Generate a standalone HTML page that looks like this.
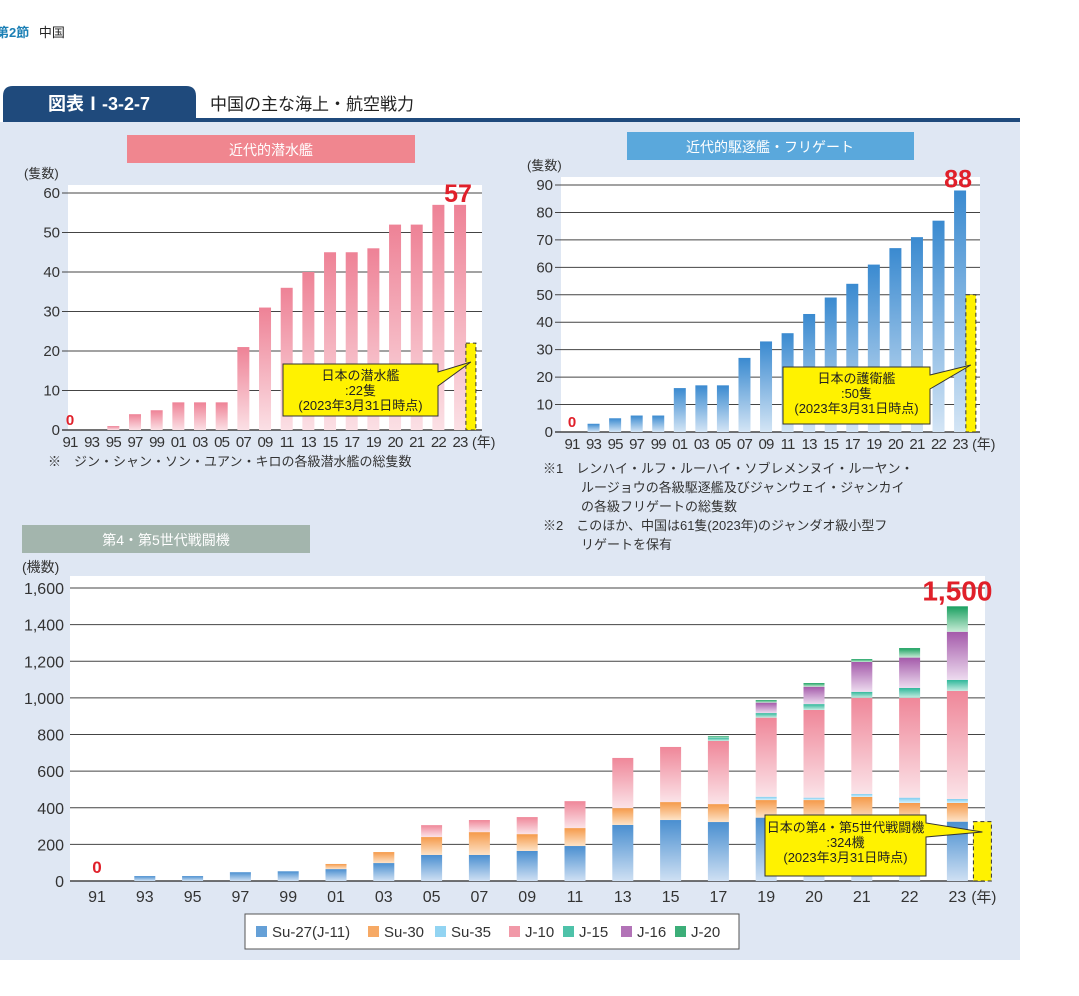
<!DOCTYPE html>
<html><head><meta charset="utf-8"><style>
body{margin:0;background:#fff;width:1079px;height:991px;overflow:hidden;font-family:"Liberation Sans","Noto Sans CJK JP",sans-serif;}
svg text{font-family:"Liberation Sans","Noto Sans CJK JP",sans-serif;}
</style></head><body>
<svg id="s" width="1079" height="991" xmlns="http://www.w3.org/2000/svg">
<defs>
<linearGradient id="gPink" x1="0" y1="0" x2="0" y2="1"><stop offset="0" stop-color="#ee8296"/><stop offset="1" stop-color="#fbe0e5"/></linearGradient>
<linearGradient id="gBlue" x1="0" y1="0" x2="0" y2="1"><stop offset="0" stop-color="#3a8ad0"/><stop offset="1" stop-color="#d4e5f5"/></linearGradient>
<linearGradient id="gSu27" x1="0" y1="0" x2="0" y2="1"><stop offset="0" stop-color="#4a8fd0"/><stop offset="1" stop-color="#cfe0f3"/></linearGradient>
<linearGradient id="gSu30" x1="0" y1="0" x2="0" y2="1"><stop offset="0" stop-color="#f59a4a"/><stop offset="1" stop-color="#fde3c8"/></linearGradient>
<linearGradient id="gSu35" x1="0" y1="0" x2="0" y2="1"><stop offset="0" stop-color="#7fcdf0"/><stop offset="1" stop-color="#d6f0fb"/></linearGradient>
<linearGradient id="gJ10" x1="0" y1="0" x2="0" y2="1"><stop offset="0" stop-color="#ef8799"/><stop offset="1" stop-color="#fbe3e8"/></linearGradient>
<linearGradient id="gJ15" x1="0" y1="0" x2="0" y2="1"><stop offset="0" stop-color="#2fb79a"/><stop offset="1" stop-color="#c6ece2"/></linearGradient>
<linearGradient id="gJ16" x1="0" y1="0" x2="0" y2="1"><stop offset="0" stop-color="#a45aaa"/><stop offset="1" stop-color="#eddbef"/></linearGradient>
<linearGradient id="gJ20" x1="0" y1="0" x2="0" y2="1"><stop offset="0" stop-color="#1aa060"/><stop offset="1" stop-color="#c8ecd6"/></linearGradient>
</defs>
<text x="-4" y="37" font-size="13" font-weight="bold" fill="#1a7fb5">第2節 <tspan fill="#222" font-weight="normal" dx="6">中国</tspan></text>
<rect x="0" y="122" width="1020" height="838" fill="#dfe7f3"/>
<path d="M3,121 V96 Q3,86 13,86 H186 Q196,86 196,96 V121 Z" fill="#1f4a7c"/>
<text x="99" y="110" font-size="18" font-weight="bold" fill="#fff" text-anchor="middle">図表Ⅰ-3-2-7</text>
<rect x="3" y="118" width="1017" height="4" fill="#1f4a7c"/>
<text x="210" y="110" font-size="17" fill="#222">中国の主な海上・航空戦力</text>

<rect x="127" y="135" width="288" height="28" fill="#f0868f"/>
<text x="271" y="155" font-size="14" fill="#fff" text-anchor="middle">近代的潜水艦</text>
<rect x="627" y="132" width="287" height="28" fill="#5aa8dc"/>
<text x="770" y="152" font-size="14" fill="#fff" text-anchor="middle">近代的駆逐艦・フリゲート</text>
<rect x="22" y="525" width="288" height="28" fill="#a3b5ad"/>
<text x="166" y="545" font-size="14" fill="#fff" text-anchor="middle">第4・第5世代戦闘機</text>

<text x="48" y="466" font-size="13" fill="#333">※　ジン・シャン・ソン・ユアン・キロの各級潜水艦の総隻数</text>
<g font-size="13" fill="#333">
<text x="543" y="473">※1　レンハイ・ルフ・ルーハイ・ソブレメンヌイ・ルーヤン・</text>
<text x="581" y="492">ルージョウの各級駆逐艦及びジャンウェイ・ジャンカイ</text>
<text x="581" y="511">の各級フリゲートの総隻数</text>
<text x="543" y="530">※2　このほか、中国は61隻(2023年)のジャンダオ級小型フ</text>
<text x="581" y="549">リゲートを保有</text>
</g>
<g id="c1"></g><g id="c2"></g><g id="c3"></g>
<g id="legend"></g>
</svg>
<script>
const NS="http://www.w3.org/2000/svg";
const years=["91","93","95","97","99","01","03","05","07","09","11","13","15","17","19","20","21","22","23"];
const subValues=[0,0,1,4,5,7,7,7,21,31,36,40,45,45,46,52,52,57,57];
const subTicks=[0,10,20,30,40,50,60];
const japanSub=22;
const dstValues=[0,3,5,6,6,16,17,17,27,33,36,43,49,54,61,67,71,77,88];
const dstTicks=[0,10,20,30,40,50,60,70,80,90];
const japanDst=50;
const fSeries=["Su-27(J-11)","Su-30","Su-35","J-10","J-15","J-16","J-20"];
const su27=[0,27,27,48,53,65,98,142,142,164,191,306,333,322,346,330,330,330,324];
const su30=[0,0,0,0,0,28,60,98,125,92,98,92,98,98,96,112,129,96,102];
const su35=[0,0,0,0,0,0,0,0,0,0,0,0,0,0,18,13,16,29,22];
const j10=[0,0,0,0,0,0,0,65,66,93,147,274,301,345,432,479,525,545,590];
const j15=[0,0,0,0,0,0,0,0,0,0,0,0,0,18,25,32,33,54,60];
const j16=[0,0,0,0,0,0,0,0,0,0,0,0,0,0,57,95,163,166,263];
const j20=[0,0,0,0,0,0,0,0,0,0,0,0,0,8,14,20,16,52,139];
const fTicks=[0,200,400,600,800,1000,1200,1400,1600];
const japanF=324;
const fColors=["gSu27","gSu30","gSu35","gJ10","gJ15","gJ16","gJ20"];
const legendSw=["#4a8fd0","#f59a4a","#7fcdf0","#ef8799","#2fb79a","#a45aaa","#1aa060"];

function el(tag,attrs,parent,txt){const e=document.createElementNS(NS,tag);for(const k in attrs)e.setAttribute(k,attrs[k]);if(txt!==undefined)e.textContent=txt;parent.appendChild(e);return e;}
function fmt(v){return v.toLocaleString("en-US");}

function drawSimple(g,cfg){
  const y=v=>cfg.y0-(v/cfg.max)*(cfg.y0-cfg.yTop);
  const x=i=>cfg.x0+i*cfg.step;
  const pa=el("rect",{x:cfg.px0,y:cfg.yTop-8,width:cfg.px1-cfg.px0,height:cfg.y0-cfg.yTop+8,fill:"#fff"},g);
  
  
  cfg.ticks.forEach(t=>{
    const l=el("line",{x1:cfg.px0-6,x2:cfg.px1,y1:y(t),y2:y(t),stroke:"#444","stroke-width":t===0?1.5:1},g);
    
    
    const tx=el("text",{x:cfg.px0-8,y:y(t)+5,"font-size":15,fill:"#333","text-anchor":"end"},g,fmt(t));
    
    
  });
  cfg.values.forEach((v,i)=>{
    if(v>0){const b=el("rect",{x:x(i)-cfg.bw/2,y:y(v),width:cfg.bw,height:y(0)-y(v),fill:cfg.fill},g);
    
    }
    const tl=el("text",{x:x(i),y:cfg.y0+17,"font-size":15,fill:"#333","text-anchor":"middle","letter-spacing":"-0.8"},g,years[i]);
    
    
  });
  const n=cfg.values.length-1;
  const yl=el("text",{x:x(n)+12,y:cfg.y0+17,"font-size":14,fill:"#333"},g,"(年)");
  
  
  const zl=el("text",{x:x(0),y:cfg.y0-5,"font-size":15,"font-weight":"bold",fill:"#e0202a","text-anchor":"middle"},g,"0");
  
  
  const big=el("text",{x:x(n)-2,y:y(cfg.values[n])-3,"font-size":25,"font-weight":"bold",fill:"#e0202a","text-anchor":"middle"},g,cfg.values[n]);
  
  
  const ux=el("text",{x:cfg.unitX,y:cfg.unitY,"font-size":13,fill:"#333"},g,"(隻数)");
  
  
  const jx=x(n)+cfg.step/2;
  const jb=el("rect",{x:jx-5,y:y(cfg.japan),width:10,height:y(0)-y(cfg.japan),fill:"#fff200",stroke:"#333","stroke-dasharray":"4,3"},g);
  
  
  const c=cfg.call;
  const cb=el("path",{d:`M${c.x},${c.y} H${c.x+c.w} V${c.y+8} L${jx},${c.py} L${c.x+c.w},${c.y+22} V${c.y+c.h} H${c.x} Z`,fill:"#fff200",stroke:"#333","stroke-width":1},g);
  
  
  c.lines.forEach((t,k)=>{const tt=el("text",{x:c.x+c.w/2,y:c.y+16+k*15,"font-size":13,fill:"#222","text-anchor":"middle"},g,t);
  
  });
}
drawSimple(document.getElementById("c1"),{values:subValues,ticks:subTicks,max:60,y0:430,yTop:193,x0:70,step:21.67,bw:12,px0:68,px1:482,fill:"url(#gPink)",unitX:24,unitY:178,japan:japanSub,
 call:{x:283,y:364,w:155,h:52,py:362,lines:["日本の潜水艦",":22隻","(2023年3月31日時点)"]}});
drawSimple(document.getElementById("c2"),{values:dstValues,ticks:dstTicks,max:90,y0:432,yTop:185,x0:572,step:21.56,bw:12,px0:561,px1:980,fill:"url(#gBlue)",unitX:527,unitY:170,japan:japanDst,
 call:{x:783,y:367,w:147,h:57,py:365,lines:["日本の護衛艦",":50隻","(2023年3月31日時点)"]}});

(function(){
  const g=document.getElementById("c3");
  const y0=881,yTop=588,max=1600,x0=97,step=47.8,bw=21,px0=70,px1=985;
  const y=v=>y0-(v/max)*(y0-yTop);
  const x=i=>x0+i*step;
  const pa=el("rect",{x:px0,y:yTop-12,width:px1-px0,height:y0-yTop+12,fill:"#fff"},g);
  
  
  fTicks.forEach(t=>{
    const l=el("line",{x1:px0,x2:px1,y1:y(t),y2:y(t),stroke:"#444","stroke-width":t===0?1.5:1},g);
    
    
    const tx=el("text",{x:px0-6,y:y(t)+6,"font-size":16,fill:"#333","text-anchor":"end"},g,fmt(t));
    
    
  });
  const series=[su27,su30,su35,j10,j15,j16,j20];
  years.forEach((yr,i)=>{
    let acc=0;
    series.forEach((s,k)=>{
      const v=s[i]; if(v<=0)return;
      const r=el("rect",{x:x(i)-bw/2,y:y(acc+v),width:bw,height:y(acc)-y(acc+v),fill:"url(#"+fColors[k]+")"},g);
      
      
      acc+=v;
    });
    const tl=el("text",{x:x(i),y:y0+21,"font-size":16,fill:"#333","text-anchor":"middle"},g,yr);
    
    
  });
  const n=years.length-1;
  let total=0;series.forEach(s=>total+=s[n]);
  const yl=el("text",{x:x(n)+14,y:y0+21,"font-size":15,fill:"#333"},g,"(年)");
  
  
  const zl=el("text",{x:x(0),y:y0-8,"font-size":17,"font-weight":"bold",fill:"#e0202a","text-anchor":"middle"},g,"0");
  
  
  const big=el("text",{x:x(n)+0,y:y(total)-6,"font-size":28,"font-weight":"bold",fill:"#e0202a","text-anchor":"middle"},g,fmt(total));
  
  
  const ux=el("text",{x:22,y:572,"font-size":14,fill:"#333"},g,"(機数)");
  
  
  const jx=x(n)+bw+4;
  const jb=el("rect",{x:jx-9,y:y(japanF),width:18,height:y(0)-y(japanF),fill:"#fff200",stroke:"#333","stroke-dasharray":"4,3"},g);
  
  
  const c={x:765,y:815,w:161,h:61};
  const cb=el("path",{d:`M${c.x},${c.y} H${c.x+c.w} V${c.y+8} L${jx},${832} L${c.x+c.w},${c.y+22} V${c.y+c.h} H${c.x} Z`,fill:"#fff200",stroke:"#333"},g);
  
  
  ["日本の第4・第5世代戦闘機",":324機","(2023年3月31日時点)"].forEach((t,k)=>{
    const tt=el("text",{x:c.x+c.w/2,y:c.y+17+k*15,"font-size":13,fill:"#222","text-anchor":"middle"},g,t);
    
    
  });
  const lg=document.getElementById("legend");
  const box=el("rect",{x:245,y:914,width:494,height:35,fill:"#fff",stroke:"#555"},lg);
  
  
  const lx=[256,368,435,509,563,621,675];
  fSeries.forEach((s,k)=>{
    const sw=el("rect",{x:lx[k],y:926,width:11,height:11,fill:legendSw[k],opacity:0.85},lg);
    
    
    const t=el("text",{x:lx[k]+16,y:937,"font-size":15,fill:"#333"},lg,s);
    
    
  });
})();
</script>
</body></html>
